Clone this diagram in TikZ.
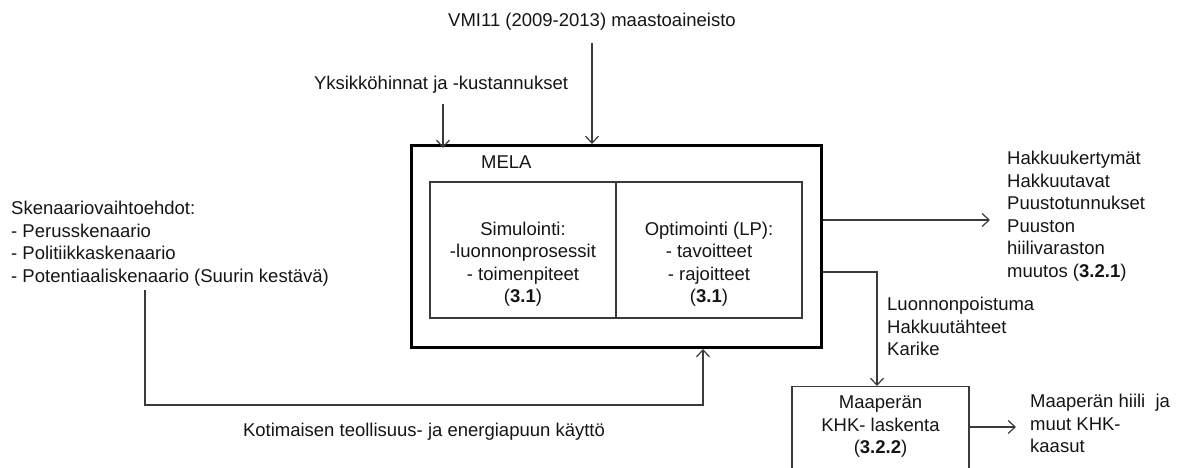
\documentclass[tikz,border=0pt]{standalone}
\usepackage{fontspec}
\setmainfont{Liberation Sans}
\usetikzlibrary{arrows.meta}
\definecolor{ln}{HTML}{3A3A3A}
\definecolor{tx}{HTML}{151515}
\tikzset{
  lbl/.style={inner sep=0pt, text=tx, font=\fontsize{18.5}{22.5}\selectfont},
  arr/.style={draw=ln, line width=1.3pt, -{Straight Barb[length=7pt,width=13pt,line width=1.2pt]}},
  thin/.style={draw=ln, line width=1.3pt},
}
\begin{document}
\begin{tikzpicture}[x=1pt,y=-1pt]
\useasboundingbox (0,0) rectangle (1184,468);
\clip (0,0) rectangle (1184,468);
% main box
\node[draw=black, line width=3pt, minimum width=410pt, minimum height=202pt, inner sep=0pt] (mela) at (616.5,246.5) {};
\node[lbl, anchor=west] (melat) at (481,162) {MELA};
\node[thin, minimum width=186pt, minimum height=136pt, inner sep=0pt] (sim) at (523,250) {};
\node[thin, minimum width=186pt, minimum height=136pt, inner sep=0pt] (opt) at (709,250) {};
\node[lbl, align=center] (simt) at (523,264) {Simulointi:\\-luonnonprosessit\\- toimenpiteet\\(\textbf{3.1})};
\node[lbl, align=center] (optt) at (709,264) {Optimointi (LP):\\- tavoitteet\\- rajoitteet\\(\textbf{3.1})};
% inputs
\node[lbl] (vmi) at (592,22) {VMI11 (2009-2013) maastoaineisto};
\draw[arr] ([yshift=-12pt]vmi.south) -- (vmi.south |- mela.north);
\node[lbl] (yks) at (441,85) {Yksikköhinnat ja -kustannukset};
\draw[arr] ([xshift=2pt,yshift=-10pt]yks.south) -- ([xshift=2pt,yshift=-4pt]yks.south |- mela.north);
% outputs
\node[lbl, anchor=north west, align=left] (out) at (1007,151) {Hakkuukertymät\\Hakkuutavat\\Puustotunnukset\\Puuston\\hiilivaraston\\muutos (\textbf{3.2.1})};
\coordinate (r1) at (0,220);
\draw[arr] (mela.east |- r1) -- ([xshift=-17pt]out.west |- r1);
\node[lbl, anchor=north west, align=left] (luo) at (887,297) {Luonnonpoistuma\\Hakkuutähteet\\Karike};
\node[thin, minimum width=177pt, minimum height=100pt, inner sep=0pt, anchor=north] (mbox) at (880.5,386) {};
\node[lbl, align=center] (maa) at (880.5,427) {Maaperän\\KHK- laskenta\\(\textbf{3.2.2})};
\coordinate (r2) at (0,272);
\draw[arr] (mela.east |- r2) -| ([xshift=-3.5pt]mbox.north);
\node[lbl, anchor=north west, align=left] (mout) at (1030,394) {Maaperän hiili\ \ ja\\muut KHK-\\kaasut};
\draw[arr] (mbox.east |- maa) -- ([xshift=-14pt]mout.west |- maa);
% scenarios
\node[lbl, anchor=north west, align=left] (sken) at (11,201) {Skenaariovaihtoehdot:\\- Perusskenaario\\- Politiikkaskenaario\\- Potentiaaliskenaario (Suurin kestävä)};
\coordinate (s0) at (145,290);
\coordinate (k) at (703,405);
\draw[arr] (s0) |- (k) -- (k |- mela.south);
\node[lbl] (kot) at (424,432) {Kotimaisen teollisuus- ja energiapuun käyttö};
\end{tikzpicture}
\end{document}
